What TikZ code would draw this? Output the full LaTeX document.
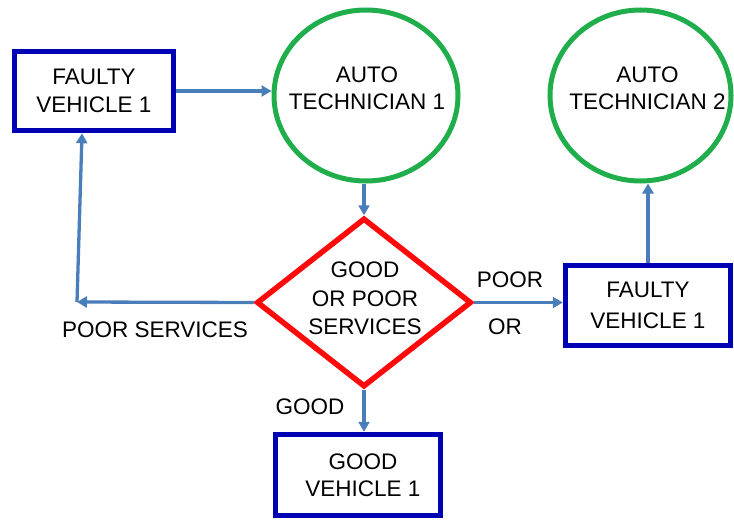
\documentclass[tikz,border=0pt]{standalone}
\usepackage{fontspec}
\setmainfont{Liberation Sans}
\usetikzlibrary{shapes.geometric,arrows.meta}
\definecolor{boxblue}{HTML}{0000B4}
\definecolor{circgreen}{HTML}{1FAE4B}
\definecolor{diared}{HTML}{FF0A0A}
\definecolor{arrblue}{HTML}{4A7EBB}
\tikzset{
  txt/.style={font=\fontsize{22.5}{27.5}\selectfont, align=center, text=black},
  boxnode/.style={txt, draw=boxblue, line width=5.5pt, rectangle, inner sep=0pt},
  circnode/.style={draw=circgreen, line width=5pt, ellipse, inner sep=0pt},
  dianode/.style={draw=diared, line width=5.5pt, diamond, inner sep=0pt},
  arr/.style={draw=arrblue, line width=3.3pt, -{Triangle[length=10pt,width=11pt]}},
  lbl/.style={txt, inner sep=0pt}
}
\begin{document}
\begin{tikzpicture}[x=1pt,y=-1pt]
\useasboundingbox (0,0) rectangle (734,522);
\node[boxnode, minimum width=159pt, minimum height=79pt] (fv1) at (94,91) {FAULTY\\VEHICLE 1};
\node[circnode, minimum width=184pt, minimum height=171pt,
      label={[lbl, xshift=1pt, yshift=7pt]center:AUTO\\TECHNICIAN 1}] (at1) at (366,95.5) {};
\node[circnode, minimum width=181pt, minimum height=171pt,
      label={[lbl, xshift=7pt, yshift=7pt]center:AUTO\\TECHNICIAN 2}] (at2) at (640.5,95.5) {};
\node[dianode, minimum width=215pt, minimum height=169pt,
      label={[lbl, font=\fontsize{22.5}{28.5}\selectfont, xshift=1pt, yshift=4pt]center:GOOD\\OR POOR\\SERVICES}] (dia) at (364,302.5) {};
\node[boxnode, minimum width=165pt, minimum height=80pt, font=\fontsize{22.5}{31}\selectfont] (fv2) at (648,305.5) {FAULTY\\VEHICLE 1};
\node[boxnode, minimum width=165pt, minimum height=81pt] (gv1) at (358,475) {\hspace*{10pt}GOOD\\\hspace*{10pt}VEHICLE 1};

\node[lbl] (lpoor) at (155,330) {POOR SERVICES};
\node[lbl] (lpoor2) at (510,280) {POOR};
\node[lbl] (lor) at (505,327) {OR};
\node[lbl] (lgood) at (310,407) {GOOD};

\coordinate (corner) at (77,302);
\coordinate (fvin) at ([xshift=-12pt]fv1.south);

\draw[arr] (fv1.east) -- (fv1.east -| at1.west);
\draw[arr] (at1.south -| dia.north) -- (dia.north);
\draw[arr] (dia.east) -- (dia.east -| fv2.west);
\draw[arr] (fv2.north) -- (fv2.north |- at2.south);
\draw[arr] (dia.south) -- (dia.south |- gv1.north);
\draw[arr] (dia.west) -- (corner);
\draw[arr] (corner) -- (fvin);
\end{tikzpicture}
\end{document}
